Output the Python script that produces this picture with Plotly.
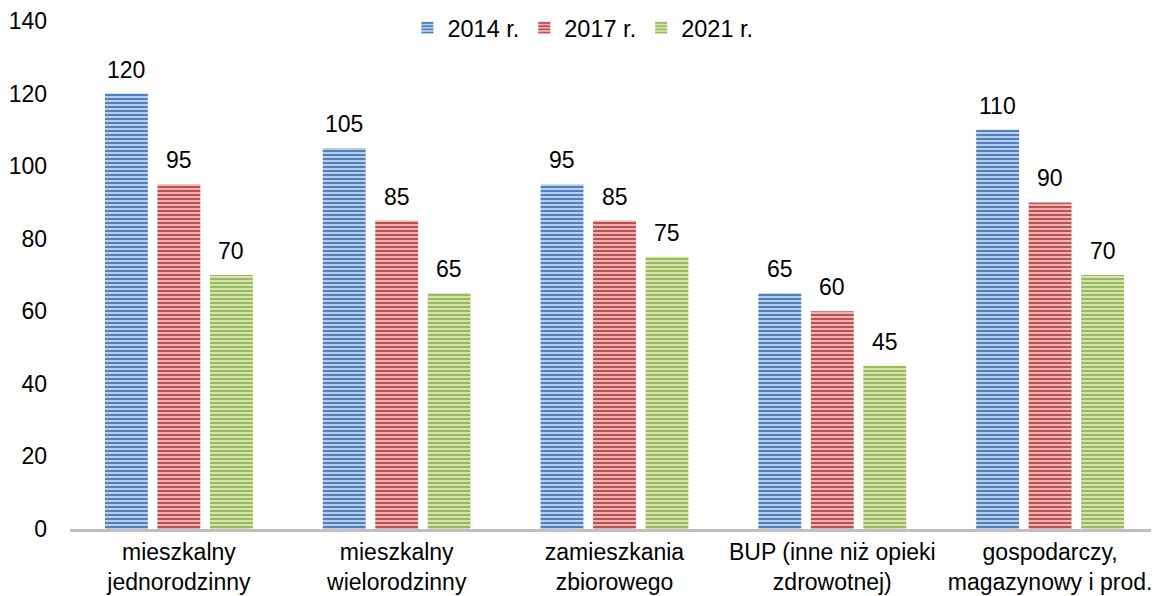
import plotly.graph_objects as go

categories = ["mieszkalny<br>jednorodzinny", "mieszkalny<br>wielorodzinny", "zamieszkania<br>zbiorowego",
              "BUP (inne niż opieki<br>zdrowotnej)", "gospodarczy,<br>magazynowy i prod."]
series_names = ["2014 r.", "2017 r.", "2021 r."]
values_2014 = [120, 105, 95, 65, 110]
values_2017 = [95, 85, 85, 60, 90]
values_2021 = [70, 65, 75, 45, 70]

styles = [
    ("#b9cdea", "#4f81bd"),
    ("#e9b5b4", "#c0504d"),
    ("#d3e3b3", "#9bbb59"),
]

FS = 23
bar_w = 0.197
pitch = 0.241
centers = [-pitch, 0.0, pitch]

fig = go.Figure()
annotations = []
for k, (name, vals, (bg, fg)) in enumerate(zip(series_names, [values_2014, values_2017, values_2021], styles)):
    off = centers[k] - bar_w / 2
    fig.add_trace(go.Bar(
        x=categories, y=vals, name=name,
        width=bar_w, offset=off,
        marker=dict(color=bg, line=dict(width=0),
                    pattern=dict(shape="-", fgcolor=fg, bgcolor=bg, size=4, solidity=0.5, fgopacity=1)),
    ))
    for i, v in enumerate(vals):
        annotations.append(dict(
            x=i + centers[k], y=v, xref="x", yref="y", text=str(v), showarrow=False,
            yanchor="bottom", yshift=9, font=dict(size=FS, color="#000000"),
        ))

fig.update_layout(
    width=1151, height=588,
    margin=dict(l=62, r=0, t=13, b=67, autoexpand=False),
    paper_bgcolor="white", plot_bgcolor="white",
    font=dict(family="Liberation Sans, Arial, sans-serif", size=FS, color="#000000"),
    barmode="group",
    showlegend=True,
    annotations=annotations,
    legend=dict(orientation="h", x=0.471, xanchor="center", yref="container", y=0.966, yanchor="middle",
                font=dict(size=23.5), traceorder="normal", bgcolor="rgba(0,0,0,0)"),
    xaxis=dict(showline=True, linecolor="#bfbfbf", linewidth=3, ticks="", showgrid=False,
               tickfont=dict(size=23), automargin=False, ticklabelstandoff=0),
    yaxis=dict(range=[0, 140], dtick=20, showgrid=False, zeroline=False, showline=False,
               ticks="", tickfont=dict(size=FS), ticklabelstandoff=22, automargin=False),
)

fig.write_html("out.html")
